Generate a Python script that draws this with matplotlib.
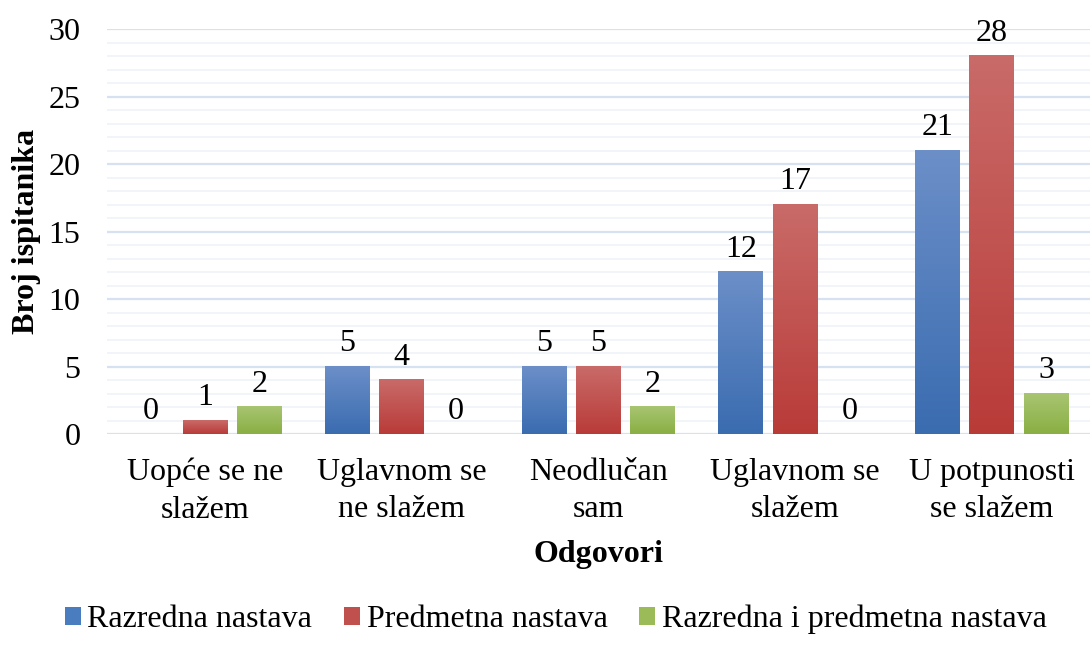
import numpy as np
import matplotlib
matplotlib.use("Agg")
import matplotlib.pyplot as plt
from matplotlib.colors import LinearSegmentedColormap
from matplotlib.patches import Patch

categories = ["Uopće se ne\nslažem", "Uglavnom se\nne slažem", "Neodlučan\nsam",
              "Uglavnom se\nslažem", "U potpunosti\nse slažem"]
series_names = ["Razredna nastava", "Predmetna nastava", "Razredna i predmetna nastava"]
razredna = [0, 5, 5, 12, 21]
predmetna = [1, 4, 5, 17, 28]
oboje = [2, 0, 2, 0, 3]
series = [razredna, predmetna, oboje]

top_cols = ["#6C8FC8", "#C96B69", "#A8C572"]
bot_cols = ["#3A6CB0", "#B93B38", "#8AAF43"]
legend_cols = ["#4A7CC0", "#C0504D", "#9BBB59"]

plt.rcParams['font.family'] = ['Liberation Serif', 'DejaVu Serif']
FS = 23

fig = plt.figure(figsize=(10.9, 6.45), dpi=100)
ax = fig.add_axes([0.098, 0.327, 0.902, 0.628])

x = np.arange(len(categories))
bw = 0.228
step = 0.276
grad = np.linspace(1, 0, 256).reshape(-1, 1)
for i, vals in enumerate(series):
    cmap = LinearSegmentedColormap.from_list("g%d" % i, [bot_cols[i], top_cols[i]])
    offs = (i - 1) * step
    for xi, v in zip(x, vals):
        x0 = xi + offs - bw / 2
        if v > 0:
            ax.imshow(grad, extent=[x0, x0 + bw, 0, v], aspect='auto', cmap=cmap,
                      vmin=0, vmax=1, zorder=3, interpolation='bilinear')
        ax.text(xi + offs, v + 0.6, str(v), ha='center', va='bottom', fontsize=FS,
                zorder=4)

ax.set_xlim(-0.5, 4.5)
ax.set_ylim(0, 30)
ax.set_yticks(range(0, 31, 5))
ax.set_yticks(range(0, 31, 1), minor=True)
ax.grid(which='major', axis='y', color='#D6E1F1', linewidth=1.6, zorder=0)
ax.grid(which='minor', axis='y', color='#EFF3F9', linewidth=1.2, zorder=0)
ax.set_axisbelow(True)
for s in ax.spines.values():
    s.set_visible(False)
ax.tick_params(axis='both', which='both', length=0)
ax.tick_params(axis='y', labelsize=FS, pad=19)
ax.set_xticks(x)
ax.set_xticklabels(categories, fontsize=FS, linespacing=1.4)
ax.tick_params(axis='x', pad=17)
ax.set_xlabel("Odgovori", fontsize=FS, fontweight='bold', labelpad=11)
ax.set_ylabel("Broj ispitanika", fontsize=FS, fontweight='bold', labelpad=5)

handles = [Patch(facecolor=c, edgecolor='none') for c in legend_cols]
fig.legend(handles, series_names, loc='lower center', bbox_to_anchor=(0.51, -0.028),
           ncol=3, frameon=False, fontsize=FS, handlelength=0.5, handleheight=0.5,
           handletextpad=0.2, columnspacing=1.0)

fig.savefig("out.png", dpi=100)
